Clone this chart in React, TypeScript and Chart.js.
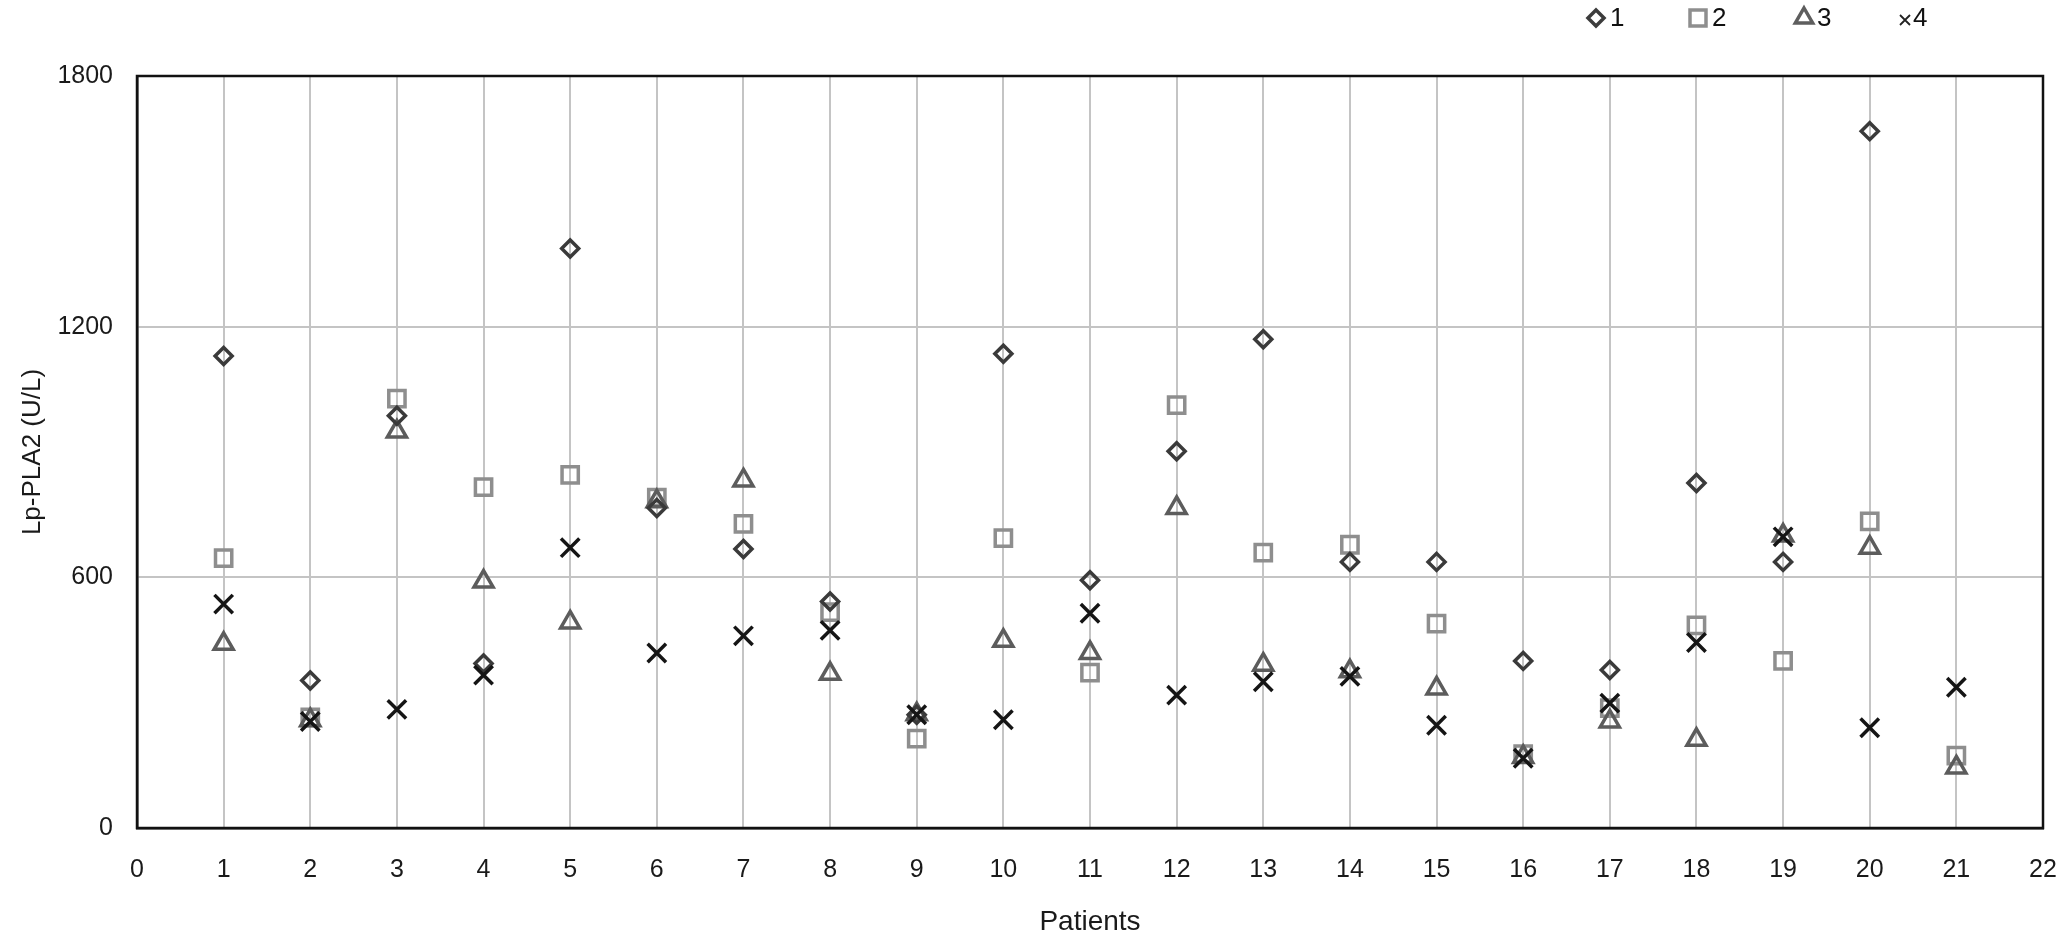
import React, { useEffect, useRef } from "react";
import { Chart, registerables } from "chart.js";

Chart.register(...registerables);

const patients = [1, 2, 3, 4, 5, 6, 7, 8, 9, 10, 11, 12, 13, 14, 15, 16, 17, 18, 19, 20, 21];
const seriesNames = ["1", "2", "3", "4"];
const series1 = [1130, 353, 987, 394, 1387, 766, 668, 542, 271, 1135, 593, 902, 1170, 637, 637, 400, 378, 826, 637, 1668, null];
const series2 = [646, 265, 1028, 816, 845, 791, 728, 517, 214, 694, 372, 1012, 659, 678, 489, 177, 287, 485, 400, 734, 173];
const series3 = [441, 258, 949, 590, 492, 782, 832, 369, 272, 448, 419, 766, 391, 375, 334, 170, 255, 211, 700, 671, 145];
const series4 = [536, 255, 284, 366, 671, 419, 460, 473, 271, 259, 514, 318, 350, 363, 246, 167, 299, 444, 697, 240, 337];
const xTicks = { min: 0, max: 22, step: 1 };
const yTicks = { min: 0, max: 1800, step: 600 };

const FONT = "'Liberation Sans', Arial, Helvetica, sans-serif";

function toPoints(vals: (number | null)[]) {
  const pts: { x: number; y: number }[] = [];
  vals.forEach((v, i) => {
    if (v !== null && v !== undefined) pts.push({ x: patients[i], y: v });
  });
  return pts;
}

const framePlugin = {
  id: "frame",
  beforeDatasetsDraw(chart: any) {
    const { ctx, chartArea } = chart;
    ctx.save();
    ctx.strokeStyle = "#111";
    ctx.lineWidth = 2.5;
    ctx.strokeRect(chartArea.left, chartArea.top, chartArea.right - chartArea.left, chartArea.bottom - chartArea.top);
    ctx.restore();
  },
};

const legendPlugin = {
  id: "customLegend",
  afterDraw(chart: any) {
    const ctx = chart.ctx;
    const y = 18;
    const items = [
      { kind: "diamond", mx: 1596, tx: 1610, color: "#3c3c3c" },
      { kind: "square", mx: 1698, tx: 1712, color: "#8e8e8e" },
      { kind: "triangle", mx: 1804, tx: 1817, color: "#5e5e5e" },
      { kind: "cross", mx: 1905, tx: 1913, color: "#222" },
    ];
    ctx.save();
    items.forEach((it, i) => {
      ctx.strokeStyle = it.color;
      ctx.lineWidth = 3.5;
      ctx.beginPath();
      if (it.kind === "diamond") {
        const r = 8;
        ctx.moveTo(it.mx, y - r);
        ctx.lineTo(it.mx + r, y);
        ctx.lineTo(it.mx, y + r);
        ctx.lineTo(it.mx - r, y);
        ctx.closePath();
      } else if (it.kind === "square") {
        const s = 8;
        ctx.rect(it.mx - s, y - s, 2 * s, 2 * s);
      } else if (it.kind === "triangle") {
        const r = 10;
        ctx.moveTo(it.mx, y - r);
        ctx.lineTo(it.mx + r * 0.866, y + r * 0.5);
        ctx.lineTo(it.mx - r * 0.866, y + r * 0.5);
        ctx.closePath();
      } else {
        const s = 5;
        ctx.lineWidth = 1.8;
        ctx.moveTo(it.mx - s, y - s + 2);
        ctx.lineTo(it.mx + s, y + s + 2);
        ctx.moveTo(it.mx + s, y - s + 2);
        ctx.lineTo(it.mx - s, y + s + 2);
      }
      ctx.stroke();
      ctx.fillStyle = "#111";
      ctx.font = `26px ${FONT}`;
      ctx.textAlign = "left";
      ctx.textBaseline = "middle";
      ctx.fillText(seriesNames[i], it.tx, y + 1);
    });
    ctx.restore();
  },
};

export default function App() {
  const canvasRef = useRef<HTMLCanvasElement | null>(null);

  useEffect(() => {
    document.body.style.margin = "0";
    const canvas = canvasRef.current;
    if (!canvas) return;
    const grid = { color: "#c4c4c4", lineWidth: 2, drawTicks: false };
    const tickFont = { size: 25, family: FONT };
    const chart = new Chart(canvas, {
      type: "scatter",
      data: {
        datasets: [
          {
            label: seriesNames[0],
            data: toPoints(series1),
            pointStyle: "rectRot",
            pointRadius: 8.5,
            borderColor: "#3a3a3a",
            backgroundColor: "rgba(0,0,0,0)",
            borderWidth: 3.5,
            order: 1,
          },
          {
            label: seriesNames[1],
            data: toPoints(series2),
            pointStyle: "rect",
            pointRadius: 11.5,
            borderColor: "#8e8e8e",
            backgroundColor: "rgba(0,0,0,0)",
            borderWidth: 3.5,
            order: 3,
          },
          {
            label: seriesNames[2],
            data: toPoints(series3),
            pointStyle: "triangle",
            pointRadius: 11,
            borderColor: "#5c5c5c",
            backgroundColor: "rgba(0,0,0,0)",
            borderWidth: 3.5,
            order: 2,
          },
          {
            label: seriesNames[3],
            data: toPoints(series4),
            pointStyle: "crossRot",
            pointRadius: 13,
            borderColor: "#151515",
            backgroundColor: "rgba(0,0,0,0)",
            borderWidth: 3.5,
            order: 0,
          },
        ],
      },
      options: {
        responsive: false,
        animation: false,
        devicePixelRatio: 1,
        layout: { autoPadding: false, padding: { top: 76, right: 20, left: 0, bottom: 0 } },
        plugins: { legend: { display: false }, tooltip: { enabled: false } },
        scales: {
          x: {
            type: "linear",
            min: xTicks.min,
            max: xTicks.max,
            ticks: { stepSize: xTicks.step, font: tickFont, color: "#1a1a1a", padding: 27 },
            grid,
            border: { display: true, color: "#111", width: 2.5 },
            title: { display: true, text: "Patients", font: { size: 28, family: FONT, lineHeight: 1 }, color: "#1a1a1a", padding: { top: 0, bottom: 0 } },
            afterFit: (scale: any) => {
              scale.height = 108;
              scale.paddingLeft = 0;
              scale.paddingRight = 0;
            },
          },
          y: {
            type: "linear",
            min: yTicks.min,
            max: yTicks.max,
            ticks: {
              stepSize: yTicks.step,
              font: tickFont,
              color: "#1a1a1a",
              padding: 24,
              callback: (v: any) => String(v),
            },
            grid,
            border: { display: true, color: "#111", width: 2.5 },
            title: { display: true, text: "Lp-PLA2 (U/L)", font: { size: 26, family: FONT }, color: "#1a1a1a", padding: { top: 17, bottom: 0 } },
            afterFit: (scale: any) => {
              scale.width = 137;
              scale.paddingTop = 0;
              scale.paddingBottom = 0;
            },
          },
        },
      },
      plugins: [framePlugin, legendPlugin],
    } as any);
    return () => chart.destroy();
  }, []);

  return (
    <div style={{ width: 2063, height: 936, background: "#fff" }}>
      <canvas ref={canvasRef} width={2063} height={936} style={{ display: "block" }} />
    </div>
  );
}
